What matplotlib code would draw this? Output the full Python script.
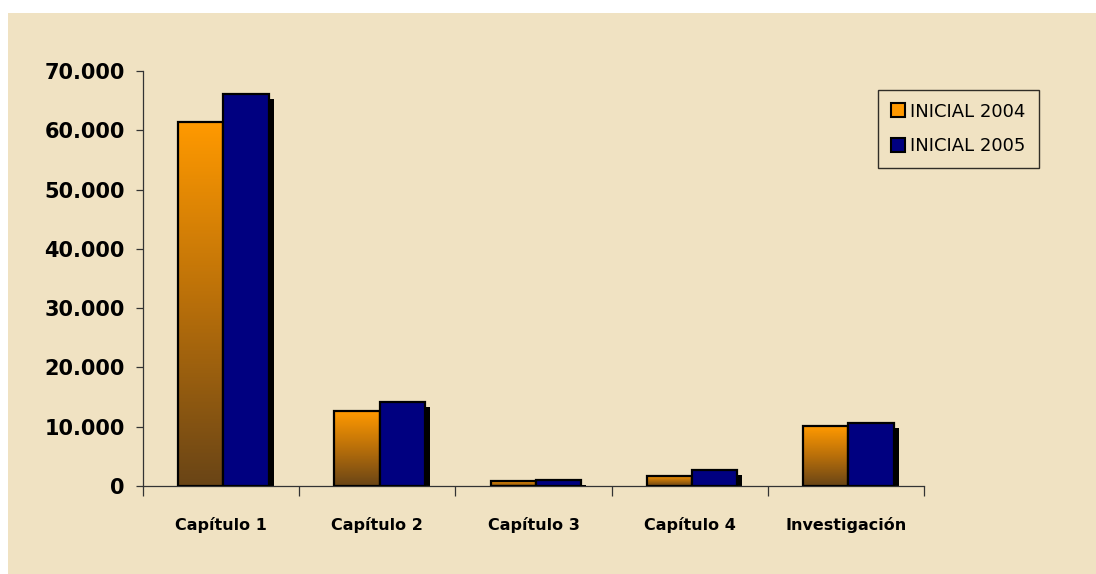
import numpy as np
import matplotlib
matplotlib.use("Agg")
import matplotlib.pyplot as plt
from matplotlib.colors import LinearSegmentedColormap
from matplotlib.patches import Rectangle
from matplotlib.ticker import FuncFormatter, FixedLocator

categories = ["Capítulo 1", "Capítulo 2", "Capítulo 3", "Capítulo 4", "Investigación"]
inicial_2004 = [61400, 12600, 800, 1700, 10100]
inicial_2005 = [66100, 14200, 1000, 2700, 10600]
series_labels = ["INICIAL 2004", "INICIAL 2005"]

bg = "#f0e2c2"
navy = "#000080"
orange_top = "#ff9900"
brown_bottom = "#6a4516"
grad = LinearSegmentedColormap.from_list("orng", [brown_bottom, "#b86f0a", orange_top])

fig = plt.figure(figsize=(10.96, 5.74), dpi=100)
fig.patch.set_facecolor("white")
fig.patches.append(Rectangle((8 / 1096, 0), 1, 1 - 13 / 574, transform=fig.transFigure,
                             facecolor=bg, edgecolor="none", zorder=-5))

ax = fig.add_axes([143 / 1096, 88 / 574, 781 / 1096, 415 / 574])
ax.set_facecolor("none")

x = np.arange(len(categories))
width = 0.29
off_o = -0.13
off_b = off_o + width
ax.set_xlim(-0.5, len(categories) - 0.5)
ax.set_ylim(0, 70000)

# shadow offsets (approx 5 px)
sx = 5 / 156.2
sy = 5 * 70000 / 415

for i in range(len(categories)):
    h_o = inicial_2004[i]
    h_b = inicial_2005[i]
    # shadow of blue bar
    ax.add_patch(Rectangle((x[i] + off_b - width / 2 + sx, 0), width, max(h_b - sy, 0),
                           facecolor="black", edgecolor="none", zorder=1))
    # gradient orange bar
    x0 = x[i] + off_o - width / 2
    ax.imshow(np.linspace(1, 0, 100).reshape(-1, 1), cmap=grad, aspect="auto",
              extent=[x0, x0 + width, 0, h_o], zorder=2, interpolation="bilinear")
    ax.add_patch(Rectangle((x0, 0), width, h_o, facecolor="none", edgecolor="black",
                           linewidth=1.6, zorder=3))
    # blue bar
    ax.add_patch(Rectangle((x[i] + off_b - width / 2, 0), width, h_b, facecolor=navy,
                           edgecolor="black", linewidth=1.6, zorder=3))

ax.set_xlim(-0.5, len(categories) - 0.5)
ax.set_ylim(0, 70000)

for s in ["top", "right"]:
    ax.spines[s].set_visible(False)
for s in ["left", "bottom"]:
    ax.spines[s].set_color("#333333")
    ax.spines[s].set_linewidth(0.9)

ax.set_yticks(np.arange(0, 70001, 10000))
ax.yaxis.set_major_formatter(FuncFormatter(lambda v, p: f"{int(v):,}".replace(",", ".")))
ax.tick_params(axis="y", direction="out", length=5, width=0.9, color="#333333",
               labelsize=15, pad=8)
for t in ax.get_yticklabels():
    t.set_fontweight("bold")

ax.set_xticks(x)
ax.set_xticklabels(categories, fontsize=11.5, fontweight="bold")
ax.tick_params(axis="x", which="major", length=0, pad=22)
ax.xaxis.set_minor_locator(FixedLocator(np.arange(-0.5, len(categories), 1)))
ax.tick_params(axis="x", which="minor", direction="out", length=7, width=0.9, color="#333333")

handles = [Rectangle((0, 0), 1, 1, facecolor=orange_top, edgecolor="black", linewidth=1.5),
           Rectangle((0, 0), 1, 1, facecolor=navy, edgecolor="black", linewidth=1.5)]
leg = fig.legend(handles, series_labels, loc="upper left",
                 bbox_to_anchor=(878 / 1096, 1 - 90 / 574), frameon=True, fancybox=False,
                 fontsize=13, handlelength=0.8, handleheight=0.8, handletextpad=0.3,
                 labelspacing=0.9, borderpad=0.7, borderaxespad=0)
leg.get_frame().set_edgecolor("black")
leg.get_frame().set_facecolor(bg)
leg.get_frame().set_linewidth(1.0)

fig.savefig("out.png", dpi=100, facecolor=fig.get_facecolor())
